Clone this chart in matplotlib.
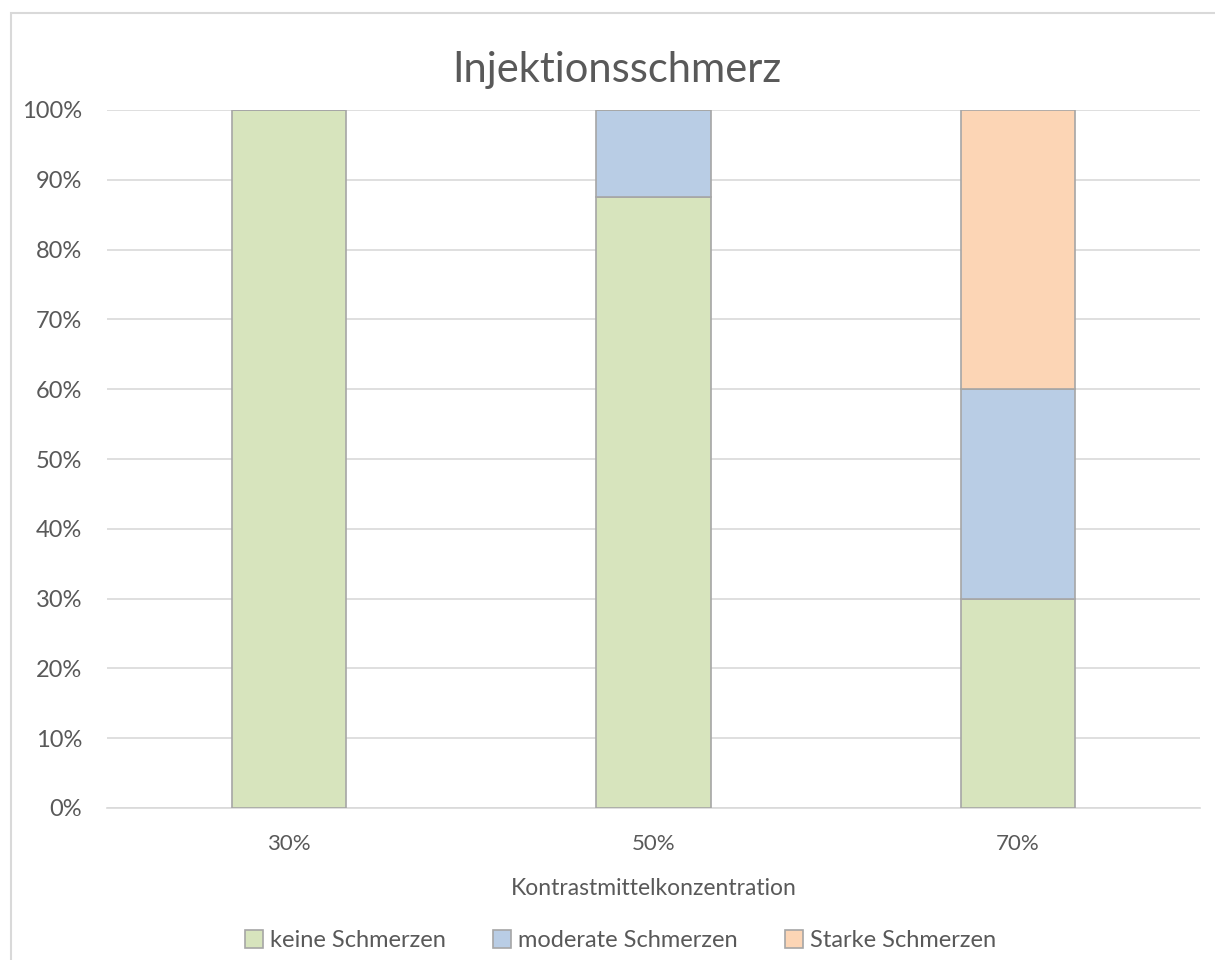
import matplotlib
matplotlib.use("Agg")
import matplotlib.pyplot as plt
from matplotlib.patches import Rectangle
import numpy as np

categories = ["30%", "50%", "70%"]
keine = [100, 87.5, 30]
moderate = [0, 12.5, 30]
starke = [0, 0, 40]
series_names = ["keine Schmerzen", "moderate Schmerzen", "Starke Schmerzen"]
colors = ["#d7e4bd", "#b9cde5", "#fcd5b5"]
yticks = list(range(0, 101, 10))

plt.rcParams['font.family'] = ['Lato', 'DejaVu Sans']
fig = plt.figure(figsize=(12.15, 9.6), dpi=100)
fig.patches.append(Rectangle((11/1215, -0.1), 1.2, (960-13)/960 + 0.1, transform=fig.transFigure,
                             fill=False, edgecolor="#d9d9d9", linewidth=1.5))
ax = fig.add_axes([107/1215, (960-808)/960, (1200-107)/1215, (808-110)/960])

x = np.arange(len(categories))
w = 0.313
bottom = np.zeros(len(categories))
for vals, name, c in zip([keine, moderate, starke], series_names, colors):
    vals = np.array(vals, dtype=float)
    ax.bar(x, vals, w, bottom=bottom, color=c, edgecolor="#a6a6a6", linewidth=1.2,
           label=name, zorder=3)
    bottom += vals

ax.set_xlim(-0.5, 2.5)
ax.set_ylim(0, 100)
ax.set_yticks(yticks)
ax.set_yticklabels([f"{t}%" for t in yticks])
ax.set_xticks(x)
ax.set_xticklabels(categories)
ax.yaxis.grid(True, color="#d9d9d9", linewidth=1.2, zorder=0)
for s in ["top", "right", "left"]:
    ax.spines[s].set_visible(False)
ax.spines["bottom"].set_color("#d9d9d9")
ax.spines["bottom"].set_linewidth(1.2)
ax.tick_params(axis="both", length=0, labelcolor="#595959")
ax.tick_params(axis="y", pad=18, labelsize=17)
ax.tick_params(axis="x", pad=19, labelsize=16)
ax.set_xlabel("Kontrastmittelkonzentration", fontsize=16.5, color="#595959", labelpad=17)
fig.text(617/1215, 1 - 70/960, "Injektionsschmerz", fontsize=30, color="#595959",
         ha="center", va="center")
leg = ax.legend(loc="center", bbox_to_anchor=(0.470, -0.19), ncol=3, frameon=False,
                fontsize=17, labelcolor="#595959", handlelength=0.75, handleheight=0.75,
                columnspacing=2.0, handletextpad=0.3)
fig.savefig("out.png", dpi=100)
